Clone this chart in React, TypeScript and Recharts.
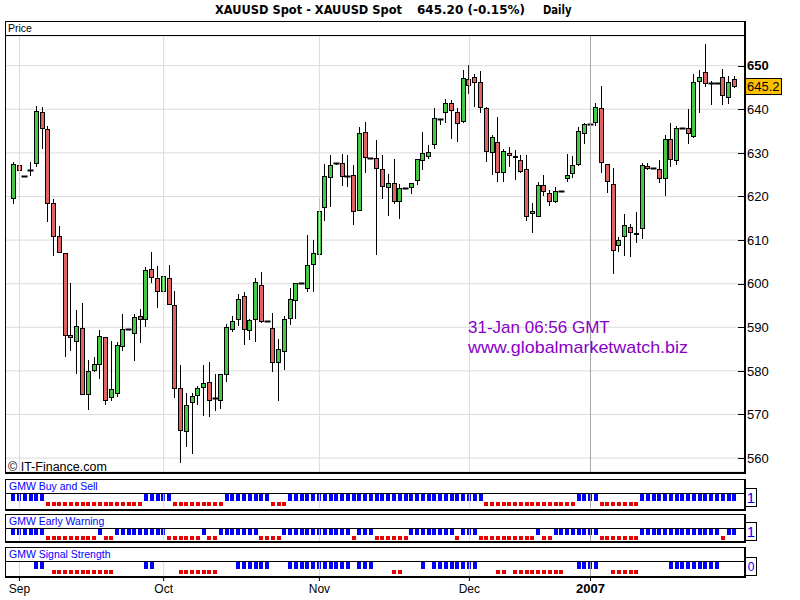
import React from 'react';
import { ComposedChart, Bar, XAxis, YAxis, CartesianGrid, ReferenceLine } from 'recharts';

// ---------- data ----------
const opens = [
  619.4, 627.2, 624.6, 626.1, 627.4, 639.3, 635.4, 618.4, 610.9, 607.0,
  588.2, 586.6, 589.8, 574.4, 579.9, 581.3, 587.7, 573.7, 574.6, 585.4,
  589.6, 588.4, 592.5, 591.6, 603.3, 601.2, 598.2, 601.2, 595.1, 576.0,
  565.9, 572.6, 574.2, 576.0, 577.4, 573.7, 573.0, 579.0, 589.3, 591.6,
  597.1, 589.1, 591.6, 599.6, 591.5, 589.8, 581.7, 584.3, 591.8, 596.0,
  600.2, 598.7, 604.2, 606.5, 617.3, 624.2, 627.6, 627.6, 624.8, 624.9,
  616.6, 634.7, 628.8, 628.8, 626.2, 621.9, 623.2, 618.7, 621.9, 621.9,
  623.5, 628.1, 629.0, 631.7, 637.7, 639.1, 641.4, 639.3, 637.0, 646.9,
  647.3, 646.2, 640.2, 629.9, 632.4, 625.3, 629.9, 629.4, 628.4, 626.3,
  615.9, 615.2, 622.6, 620.7, 618.8, 621.2, 623.9, 625.1, 627.2, 634.3,
  636.7, 636.8, 640.2, 627.4, 622.8, 608.6, 610.6, 613.1, 611.1, 612.5,
  626.9, 626.5, 626.3, 623.9, 633.1, 628.1, 635.6, 635.6, 633.7, 646.3,
  648.6, 646.0, 646.0, 647.5, 642.5, 646.9,
];
const highs = [
  628.0, 628.0, 624.6, 627.8, 640.8, 640.5, 636.2, 619.4, 613.2, 607.0,
  600.2, 594.0, 595.6, 582.5, 583.3, 589.3, 587.7, 586.9, 586.6, 593.0,
  589.6, 593.0, 594.1, 603.9, 607.3, 604.1, 601.7, 604.4, 598.3, 581.4,
  574.9, 575.0, 576.5, 581.4, 582.0, 579.4, 579.4, 590.7, 592.6, 597.6,
  598.0, 592.0, 601.2, 602.6, 591.5, 593.2, 587.2, 592.6, 598.9, 600.2,
  600.2, 611.2, 610.0, 619.7, 627.4, 629.5, 627.6, 629.7, 629.5, 627.2,
  635.9, 637.1, 628.8, 633.0, 629.5, 625.2, 628.5, 622.8, 621.9, 623.0,
  628.5, 634.8, 631.8, 640.2, 637.7, 642.3, 642.1, 640.2, 649.0, 650.2,
  648.1, 648.8, 640.6, 634.1, 638.3, 630.9, 631.3, 630.7, 629.5, 629.5,
  618.4, 623.3, 624.9, 621.4, 622.2, 621.2, 629.7, 629.4, 636.0, 636.8,
  636.7, 641.4, 645.3, 627.4, 626.5, 610.6, 616.0, 613.7, 616.4, 627.7,
  627.6, 626.5, 628.4, 634.1, 636.8, 636.2, 635.6, 640.0, 648.0, 648.9,
  655.0, 646.5, 646.0, 649.2, 647.6, 647.6,
];
const lows = [
  618.2, 619.4, 624.6, 624.7, 626.8, 631.0, 614.2, 606.4, 607.0, 583.3,
  584.6, 579.4, 574.4, 571.1, 579.7, 578.1, 572.2, 573.0, 574.0, 584.5,
  589.6, 582.3, 586.3, 590.0, 600.2, 594.4, 598.2, 595.1, 573.7, 558.8,
  562.6, 560.9, 572.1, 569.6, 569.4, 570.7, 571.2, 577.4, 589.0, 590.2,
  585.9, 587.0, 586.6, 591.0, 591.5, 579.8, 573.2, 580.1, 590.5, 592.0,
  600.2, 598.2, 598.2, 605.7, 614.4, 617.7, 627.2, 622.5, 622.1, 613.4,
  616.6, 625.3, 628.8, 606.5, 619.4, 615.6, 618.2, 614.8, 621.9, 620.5,
  622.6, 626.1, 628.5, 630.8, 636.3, 636.9, 633.1, 632.6, 636.8, 643.5,
  640.6, 639.1, 627.8, 624.9, 623.3, 623.3, 626.8, 623.8, 625.3, 614.4,
  611.7, 615.2, 620.0, 617.9, 618.6, 621.2, 623.4, 624.2, 627.0, 632.0,
  636.7, 636.2, 625.3, 620.9, 602.2, 607.3, 606.4, 606.1, 609.3, 610.2,
  626.0, 626.5, 623.0, 620.2, 626.8, 627.3, 635.6, 632.0, 633.4, 639.1,
  645.2, 641.0, 646.0, 641.0, 641.1, 644.8,
];
const closes = [
  627.4, 625.8, 624.6, 626.1, 639.5, 635.4, 618.2, 610.6, 607.0, 588.1,
  587.5, 590.2, 574.4, 579.9, 581.5, 587.9, 573.2, 575.8, 585.9, 589.5,
  589.6, 592.3, 591.6, 603.1, 601.2, 598.2, 601.7, 595.1, 575.8, 566.1,
  572.1, 574.2, 576.0, 577.2, 573.0, 573.7, 579.2, 590.0, 591.4, 596.6,
  589.3, 591.6, 600.3, 591.1, 591.5, 581.7, 585.0, 591.8, 596.6, 600.1,
  600.2, 604.3, 607.0, 616.6, 624.6, 627.2, 627.6, 624.4, 624.8, 616.4,
  634.5, 628.8, 628.8, 626.2, 622.1, 623.2, 618.7, 621.9, 621.9, 623.0,
  628.5, 629.9, 630.1, 637.9, 637.7, 641.4, 639.5, 636.6, 647.1, 645.4,
  646.0, 640.2, 630.1, 633.6, 625.3, 630.4, 629.4, 628.8, 625.7, 615.2,
  616.6, 622.6, 621.0, 618.7, 621.2, 621.2, 624.9, 627.2, 635.0, 636.6,
  636.7, 640.5, 627.6, 623.3, 607.4, 610.0, 613.5, 611.6, 611.6, 627.2,
  626.3, 626.5, 624.0, 633.1, 628.3, 635.6, 635.6, 634.3, 646.3, 647.5,
  645.8, 646.0, 646.0, 643.1, 646.3, 645.2,
];

// 1 = buy (blue), -1 = sell (red), 0 = none
const buySell = [
  1, 1, 1, 1, 1, 1, -1, -1, -1, -1,
  -1, -1, -1, -1, -1, -1, -1, -1, -1, -1,
  -1, -1, -1, 1, 1, 1, 1, 1, -1, -1,
  -1, -1, -1, -1, -1, -1, -1, 1, 1, 1,
  1, 1, 1, 1, 1, -1, -1, -1, 1, 1,
  1, 1, 1, 1, 1, 1, 1, 1, 1, 1,
  1, 1, 1, 1, 1, 1, 1, 1, 1, 1,
  1, 1, 1, 1, 1, 1, 1, 1, 1, 1,
  1, 1, -1, -1, -1, -1, -1, -1, -1, -1,
  -1, -1, -1, -1, -1, -1, -1, -1, 1, 1,
  1, 1, -1, -1, -1, -1, -1, -1, -1, 1,
  1, 1, 1, 1, 1, 1, 1, 1, 1, 1,
  1, 1, 1, 1, 1, 1,
];
const earlyWarning = [
  1, 1, 1, 1, 1, 1, -1, -1, -1, -1,
  -1, -1, -1, -1, -1, 1, -1, -1, 1, 1,
  1, 1, 1, 1, 1, 1, 1, -1, -1, -1,
  -1, -1, -1, 1, -1, -1, 1, 1, 1, 1,
  1, 1, 1, -1, -1, -1, -1, 1, 1, 1,
  1, 1, 1, 1, 1, 1, 1, 1, 1, -1,
  1, 1, 1, -1, -1, -1, -1, -1, -1, 1,
  1, 1, 1, 1, 1, 1, 1, -1, 1, 1,
  1, -1, -1, -1, -1, -1, -1, -1, -1, -1,
  -1, 1, -1, -1, 1, 1, 1, 1, 1, 1,
  1, 1, -1, -1, -1, -1, -1, -1, -1, 1,
  1, 1, 1, 1, 1, 1, 1, 1, 1, 1,
  1, 1, 1, -1, 1, 1,
];
const signalStrength = [
  0, 0, 0, 0, 1, 1, 0, -1, -1, -1,
  -1, -1, -1, -1, -1, -1, -1, -1, 0, 0,
  0, 0, 0, 1, 1, 0, 0, 0, 0, -1,
  -1, -1, -1, -1, -1, -1, 0, 0, 0, 1,
  1, 1, 1, 1, 1, 0, 0, 0, 1, 1,
  1, 1, 1, 1, 1, 1, 1, 1, 1, 0,
  1, 1, 1, 0, 0, 0, -1, -1, 0, 0,
  0, 1, 0, 1, 1, 1, 1, 1, 1, 1,
  1, 0, 0, 0, -1, -1, 0, -1, -1, -1,
  -1, -1, -1, -1, -1, -1, 0, 0, 1, 1,
  1, 1, 0, 0, -1, -1, -1, -1, -1, 0,
  0, 0, 0, 0, 1, 1, 1, 1, 1, 1,
  1, 1, 1, 0, 0, 0,
];

const monthTickIndex = [1, 26, 53, 79, 100];
const monthTickLabels = ['Sep', 'Oct', 'Nov', 'Dec', '2007'];
const priceTicks = [560, 570, 580, 590, 600, 610, 620, 630, 640, 650];
const priceDomain = [556.81, 656.81];
const lastPrice = 645.2;

const rows = opens.map((o, i) => ({
  i,
  o,
  h: highs[i],
  l: lows[i],
  c: closes[i],
  range: [lows[i], highs[i]],
  bs: buySell[i] === 0 ? null : buySell[i],
  ew: earlyWarning[i] === 0 ? null : earlyWarning[i],
  ss: signalStrength[i] === 0 ? null : signalStrength[i],
}));

// ---------- styles ----------
const SANS = "'Liberation Sans', Arial, sans-serif";
const DJV = "'DejaVu Sans', Verdana, sans-serif";
const GREEN = '#44c944';
const RED = '#e06262';
const BLUE = '#0000ff';
const SIGRED = '#e60000';
const GRID = '#dadada';
const JANLINE = '#a6a6a6';
const PURPLE = '#8800c8';
const X_PAD = { left: 4.8, right: 6.4 };

// ---------- shapes ----------
const Candle = (props: any) => {
  const { x, y, width, height, payload } = props;
  if (!payload || x == null || y == null) return <g />;
  const { o, h, l, c } = payload;
  const top = Math.min(y, y + height);
  const bot = Math.max(y, y + height);
  const ratio = h > l ? (bot - top) / (h - l) : 0;
  const py = (v: number) => top + (h - v) * ratio;
  const cx = Math.floor(x + width / 2) + 0.5;
  const up = c >= o;
  const wickTop = Math.round(py(h));
  const wickBot = Math.round(py(l));
  const bodyTop = Math.round(py(Math.max(o, c)));
  const bodyBot = Math.round(py(Math.min(o, c)));
  return (
    <g>
      {wickBot > wickTop && (
        <line x1={cx} x2={cx} y1={wickTop} y2={wickBot} stroke="#000" strokeWidth={1} />
      )}
      {bodyBot - bodyTop >= 2 ? (
        <rect
          x={cx - 2}
          y={bodyTop + 0.5}
          width={4}
          height={bodyBot - bodyTop - 1}
          fill={up ? GREEN : RED}
          stroke="#000"
          strokeWidth={1}
        />
      ) : (
        <line x1={cx - 3} x2={cx + 3} y1={bodyTop + 0.5} y2={bodyTop + 0.5} stroke="#000" strokeWidth={2} />
      )}
    </g>
  );
};

const signalShape = (key: string) => (props: any) => {
  const { x, y, width, height, payload } = props;
  const v = payload ? payload[key] : null;
  if (!v || x == null || y == null) return <g />;
  const top = Math.round(Math.min(y, y + height));
  const bot = Math.round(Math.max(y, y + height));
  const cx = Math.round(x + width / 2);
  if (v > 0) return <rect x={cx - 2} y={top} width={4} height={bot - top} fill={BLUE} />;
  return <rect x={cx - 2} y={top + 1} width={4} height={4} fill={SIGRED} />;
};

const PriceTick = (props: any) => {
  const { x, y, payload } = props;
  const v = payload.value;
  const ly = Math.round(y) + 0.5;
  return (
    <g>
      <line x1={x - 9} x2={x - 3} y1={ly} y2={ly} stroke="#000" strokeWidth={1} />
      <text
        x={x}
        y={y}
        dy="0.36em"
        fontSize={13}
        fontFamily={SANS}
        fontWeight={v === 650 ? 'bold' : 'normal'}
        fill="#000"
      >
        {v}
      </text>
    </g>
  );
};

const LastPriceLabel = (props: any) => {
  const vb = props.viewBox || {};
  const right = Math.round((vb.x || 0) + (vb.width || 0));
  const cy = Math.round(vb.y || 0);
  return (
    <g>
      <rect x={right + 1.5} y={cy - 8.5} width={36} height={16} fill="#ffc000" stroke="#000" strokeWidth={1} />
      <text x={right + 3} y={cy - 0.5} dy="0.36em" fontSize={13} fontFamily={SANS} fill="#000">
        {lastPrice.toFixed(1)}
      </text>
    </g>
  );
};

const MonthTick = (props: any) => {
  const { x, y, payload } = props;
  const k = monthTickIndex.indexOf(payload.value);
  const label = k >= 0 ? monthTickLabels[k] : '';
  const bold = label === '2007';
  return (
    <text
      x={x}
      y={y}
      dy="0.71em"
      textAnchor="middle"
      fontSize={bold ? 13 : 12}
      fontWeight={bold ? 'bold' : 'normal'}
      fontFamily={SANS}
      fill="#000"
    >
      {label}
    </text>
  );
};

const monthLines = () =>
  monthTickIndex.map((t, k) => (
    <ReferenceLine key={'m' + t} x={t} stroke={k === 4 ? JANLINE : GRID} strokeWidth={1} />
  ));

// ---------- panels ----------
const SignalPanel = ({ top, height, dataKey, showAxis }: any) => (
  <div style={{ position: 'absolute', left: 0, top }}>
    <ComposedChart
      width={800}
      height={height + (showAxis ? 24 : 0)}
      data={rows}
      margin={{ top: 0, right: 56, bottom: 0, left: 6 }}
    >
      <XAxis
        dataKey="i"
        hide={!showAxis}
        padding={X_PAD}
        ticks={monthTickIndex}
        interval={0}
        axisLine={false}
        tickLine={{ stroke: '#000' }}
        tickSize={5}
        tickMargin={3}
        height={24}
        tick={<MonthTick />}
      />
      <YAxis hide domain={[-1, 1]} type="number" />
      {monthLines()}
      <Bar dataKey={dataKey} barSize={5} shape={signalShape(dataKey)} isAnimationActive={false} />
    </ComposedChart>
  </div>
);

const PanelFrame = ({ top, sep, bottom }: any) => (
  <g>
    <line x1={5} x2={746} y1={top + 0.5} y2={top + 0.5} stroke="#000" />
    <line x1={5} x2={745} y1={sep + 0.5} y2={sep + 0.5} stroke="#000" />
    <line x1={5.5} x2={5.5} y1={top} y2={bottom + 2} stroke="#000" />
    <rect x={744} y={top} width={2} height={bottom + 2 - top} fill="#000" />
    <rect x={5} y={bottom} width={741} height={2} fill="#000" />
  </g>
);

export default function App() {
  return (
    <div style={{ position: 'absolute', left: 0, top: 0, width: 800, height: 600, background: '#fff', overflow: 'hidden' }}>
      {/* Price panel */}
      <div style={{ position: 'absolute', left: 0, top: 36 }}>
        <ComposedChart width={800} height={436} data={rows} margin={{ top: 0, right: 6, bottom: 0, left: 6 }}>
          <CartesianGrid vertical={false} stroke={GRID} />
          <XAxis dataKey="i" hide padding={X_PAD} />
          <YAxis
            orientation="right"
            type="number"
            width={50}
            domain={priceDomain}
            ticks={priceTicks}
            interval={0}
            axisLine={false}
            tickLine={false}
            tickSize={0}
            tickMargin={3}
            tick={<PriceTick />}
          />
          {monthLines()}
          <ReferenceLine y={lastPrice} stroke="none" label={<LastPriceLabel />} />
          <Bar dataKey="range" barSize={5} shape={Candle} isAnimationActive={false} />
        </ComposedChart>
      </div>

      <SignalPanel top={494} height={14} dataKey="bs" showAxis={false} />
      <SignalPanel top={529} height={12} dataKey="ew" showAxis={false} />
      <SignalPanel top={562} height={14} dataKey="ss" showAxis={true} />

      <svg width={800} height={600} style={{ position: 'absolute', left: 0, top: 0, pointerEvents: 'none' }}>
        <text x={215} y={14} fontFamily={DJV} fontWeight="bold" fontSize={12} textLength={187} lengthAdjust="spacingAndGlyphs" fill="#000">
          XAUUSD Spot - XAUUSD Spot
        </text>
        <text x={417} y={14} fontFamily={DJV} fontWeight="bold" fontSize={12} textLength={108} lengthAdjust="spacingAndGlyphs" fill="#000">
          645.20 (-0.15%)
        </text>
        <text x={543} y={14} fontFamily={DJV} fontWeight="bold" fontSize={12} textLength={28.5} lengthAdjust="spacingAndGlyphs" fill="#000">
          Daily
        </text>

        <PanelFrame top={21} sep={35} bottom={472} />
        <text x={8} y={32} fontFamily={SANS} fontSize={10.5} fill="#000">Price</text>
        <text x={8} y={471} fontFamily={SANS} fontSize={12.5} fill="#000">© IT-Finance.com</text>
        <text x={468} y={333} fontFamily={SANS} fontSize={17} fill={PURPLE}>31-Jan 06:56 GMT</text>
        <text x={468} y={353} fontFamily={SANS} fontSize={17} textLength={220} lengthAdjust="spacingAndGlyphs" fill={PURPLE}>
          www.globalmarketwatch.biz
        </text>

        <PanelFrame top={479} sep={493} bottom={509} />
        <text x={9} y={490} fontFamily={SANS} fontSize={10.5} fill={BLUE}>GMW Buy and Sell</text>
        <rect x={745.5} y={488.5} width={11} height={18} fill="#fff" stroke="#000" />
        <text x={751} y={503} textAnchor="middle" fontFamily={SANS} fontSize={15} fill={BLUE}>1</text>

        <PanelFrame top={514} sep={528} bottom={541} />
        <text x={9} y={524.5} fontFamily={SANS} fontSize={10.5} fill={BLUE}>GMW Early Warning</text>
        <rect x={745.5} y={522.5} width={11} height={18} fill="#fff" stroke="#000" />
        <text x={751} y={537} textAnchor="middle" fontFamily={SANS} fontSize={15} fill={BLUE}>1</text>

        <PanelFrame top={547} sep={561} bottom={576} />
        <text x={9} y={557.5} fontFamily={SANS} fontSize={10.5} fill={BLUE}>GMW Signal Strength</text>
        <rect x={745.5} y={557.5} width={11} height={18} fill="#fff" stroke="#000" />
        <text x={751} y={571} textAnchor="middle" fontFamily={SANS} fontSize={12} fill={BLUE}>0</text>
      </svg>
    </div>
  );
}
